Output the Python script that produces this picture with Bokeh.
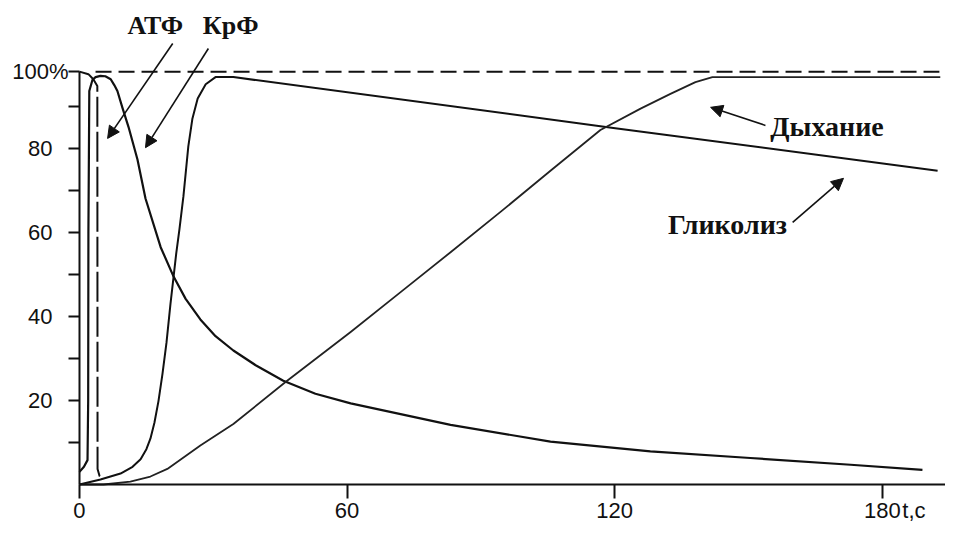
from bokeh.plotting import figure
from bokeh.models import Range1d, FixedTicker, Label, Arrow, NormalHead
from bokeh.embed import file_html
from bokeh.resources import INLINE

# ---- data (t in seconds, value in % of maximal rate) ----
TOP = 98.3  # level of the dashed 100% line as drawn

atp_t = [0, 2.0, 3.1, 4.0, 4.05, 4.5, 5.1]
atp_v = [TOP, 97.7, 96.5, 94.9, 3.7, 2.0, 1.4]

ref_t = [3.6, 192.8]
ref_v = [TOP, TOP]

krf_t = [0, 1.0, 1.8, 1.95, 2.0, 2.2, 2.9, 3.6, 4.7, 5.8, 7.0, 7.8, 8.5, 9.6, 11.0, 13.0,
         14.8, 18.2, 21.1, 23.8, 27.1, 30.5, 34.5, 39.5, 45.7, 52.9, 60.8, 83.2, 105.6,
         128.0, 150.4, 172.9, 189.0]
krf_v = [3.0, 4.2, 5.8, 20, 60, 93.7, 96.3, 97.0, 97.3, 97.2, 96.5, 95.1, 93.7, 89.8, 85.1,
         77.4, 68.1, 56.5, 49.5, 44.2, 39.3, 35.3, 31.9, 28.4, 24.7, 21.6, 19.3, 14.2, 10.2,
         7.9, 6.3, 4.7, 3.5]

gly_t = [0, 4.7, 9.2, 11.9, 13.7, 15.0, 15.9, 16.8, 17.7, 18.6, 19.5, 20.4, 21.1, 21.7,
         22.4, 23.3, 24.4, 25.3, 26.5, 28.3, 30.5, 34.5, 119.7, 192.4]
gly_v = [0, 1.2, 2.6, 4.2, 6.0, 8.4, 10.9, 14.7, 19.8, 26.3, 33.7, 43.0, 49.5, 55.1,
         60.7, 68.6, 80.5, 87.0, 91.9, 95.3, 97.0, 97.0, 84.9, 74.7]

resp_t = [0, 5.4, 11.4, 15.9, 19.7, 27.1, 34.5, 46.2, 60.8, 72.0, 83.2, 94.4, 105.6, 116.8,
          125.8, 132.5, 138.1, 141.9, 193.0]
resp_v = [0, 0, 0.7, 1.9, 3.7, 9.3, 14.4, 24.4, 36.3, 45.8, 55.3, 64.9, 74.7, 84.4,
          89.5, 93.0, 95.8, 97.0, 97.0]

x_ticks = [0, 60, 120, 180]
y_ticks = [10, 20, 30, 40, 50, 60, 70, 80, 90, TOP]
y_labels = {10: "", 30: "", 50: "", 70: "", 90: "", TOP: ""}

p = figure(width=945, height=523, output_backend="svg", toolbar_location=None,
           x_range=Range1d(-17.71, 194.17), y_range=Range1d(-9.29, 115.24),
           min_border=0, title=None)
p.background_fill_color = "white"
p.border_fill_color = "white"
p.outline_line_color = None
p.xgrid.visible = False
p.ygrid.visible = False

xa = p.xaxis[0]
xa.fixed_location = 0
xa.bounds = (0, 194.17)
xa.ticker = FixedTicker(ticks=x_ticks)
xa.axis_line_width = 2
xa.axis_line_color = "#111111"
xa.major_tick_out = 14
xa.major_tick_in = 0
xa.major_tick_line_width = 2
xa.major_tick_line_color = "#111111"
xa.minor_tick_out = 0
xa.minor_tick_in = 0
xa.major_label_standoff = 5
xa.major_label_text_font = "Liberation Sans"
xa.major_label_text_font_size = "22px"
xa.major_label_text_color = "#111111"

ya = p.yaxis[0]
ya.fixed_location = 0
ya.bounds = (0, TOP)
ya.ticker = FixedTicker(ticks=y_ticks)
ya.major_label_overrides = y_labels
ya.axis_line_width = 2
ya.axis_line_color = "#111111"
ya.major_tick_out = 11
ya.major_tick_in = 0
ya.major_tick_line_width = 2
ya.major_tick_line_color = "#111111"
ya.minor_tick_out = 0
ya.minor_tick_in = 0
ya.major_label_standoff = 16
ya.major_label_text_font = "Liberation Sans"
ya.major_label_text_font_size = "22px"
ya.major_label_text_color = "#111111"

# curves
p.line(ref_t, ref_v, line_color="#111111", line_width=2, line_dash="16 7")
p.line(atp_t, atp_v, line_color="#111111", line_width=2, line_dash="30 5")
p.line(krf_t, krf_v, line_color="#111111", line_width=2.2, line_join="round")
p.line(gly_t, gly_v, line_color="#111111", line_width=2, line_join="round")
p.line(resp_t, resp_v, line_color="#222222", line_width=1.8, line_join="round")

# axis extras
p.add_layout(Label(x=0, y=TOP, x_offset=-11, text="100%", text_align="right",
                   text_baseline="middle", text_font="Liberation Sans",
                   text_font_size="22px", text_color="#111111"))
p.add_layout(Label(x=184.5, y=-3.1, text="t,c", text_align="left", text_baseline="top",
                   text_font="Liberation Sans", text_font_size="22px", text_color="#111111"))

# curve names
def name(x, y, txt, size):
    p.add_layout(Label(x=x, y=y, text=txt, text_align="center", text_baseline="middle",
                       text_font="Liberation Serif", text_font_style="bold",
                       text_font_size=size, text_color="#111111"))

name(17.0, 109.3, "АТФ", "26px")
name(33.9, 109.3, "КрФ", "26px")
name(167.6, 85.2, "Дыхание", "28px")
name(145.3, 61.9, "Гликолиз", "28px")

def arrow(xs, ys, xe, ye):
    p.add_layout(Arrow(end=NormalHead(size=12, fill_color="#111111", line_color="#111111"),
                       x_start=xs, y_start=ys, x_end=xe, y_end=ye,
                       line_color="#111111", line_width=1.6))

arrow(20.9, 105.0, 6.3, 82.4)
arrow(28.9, 103.8, 14.8, 80.2)
arrow(153.8, 85.5, 141.5, 89.8)
arrow(159.9, 62.4, 171.3, 72.9)

open("out.html", "w").write(file_html(p, INLINE))
